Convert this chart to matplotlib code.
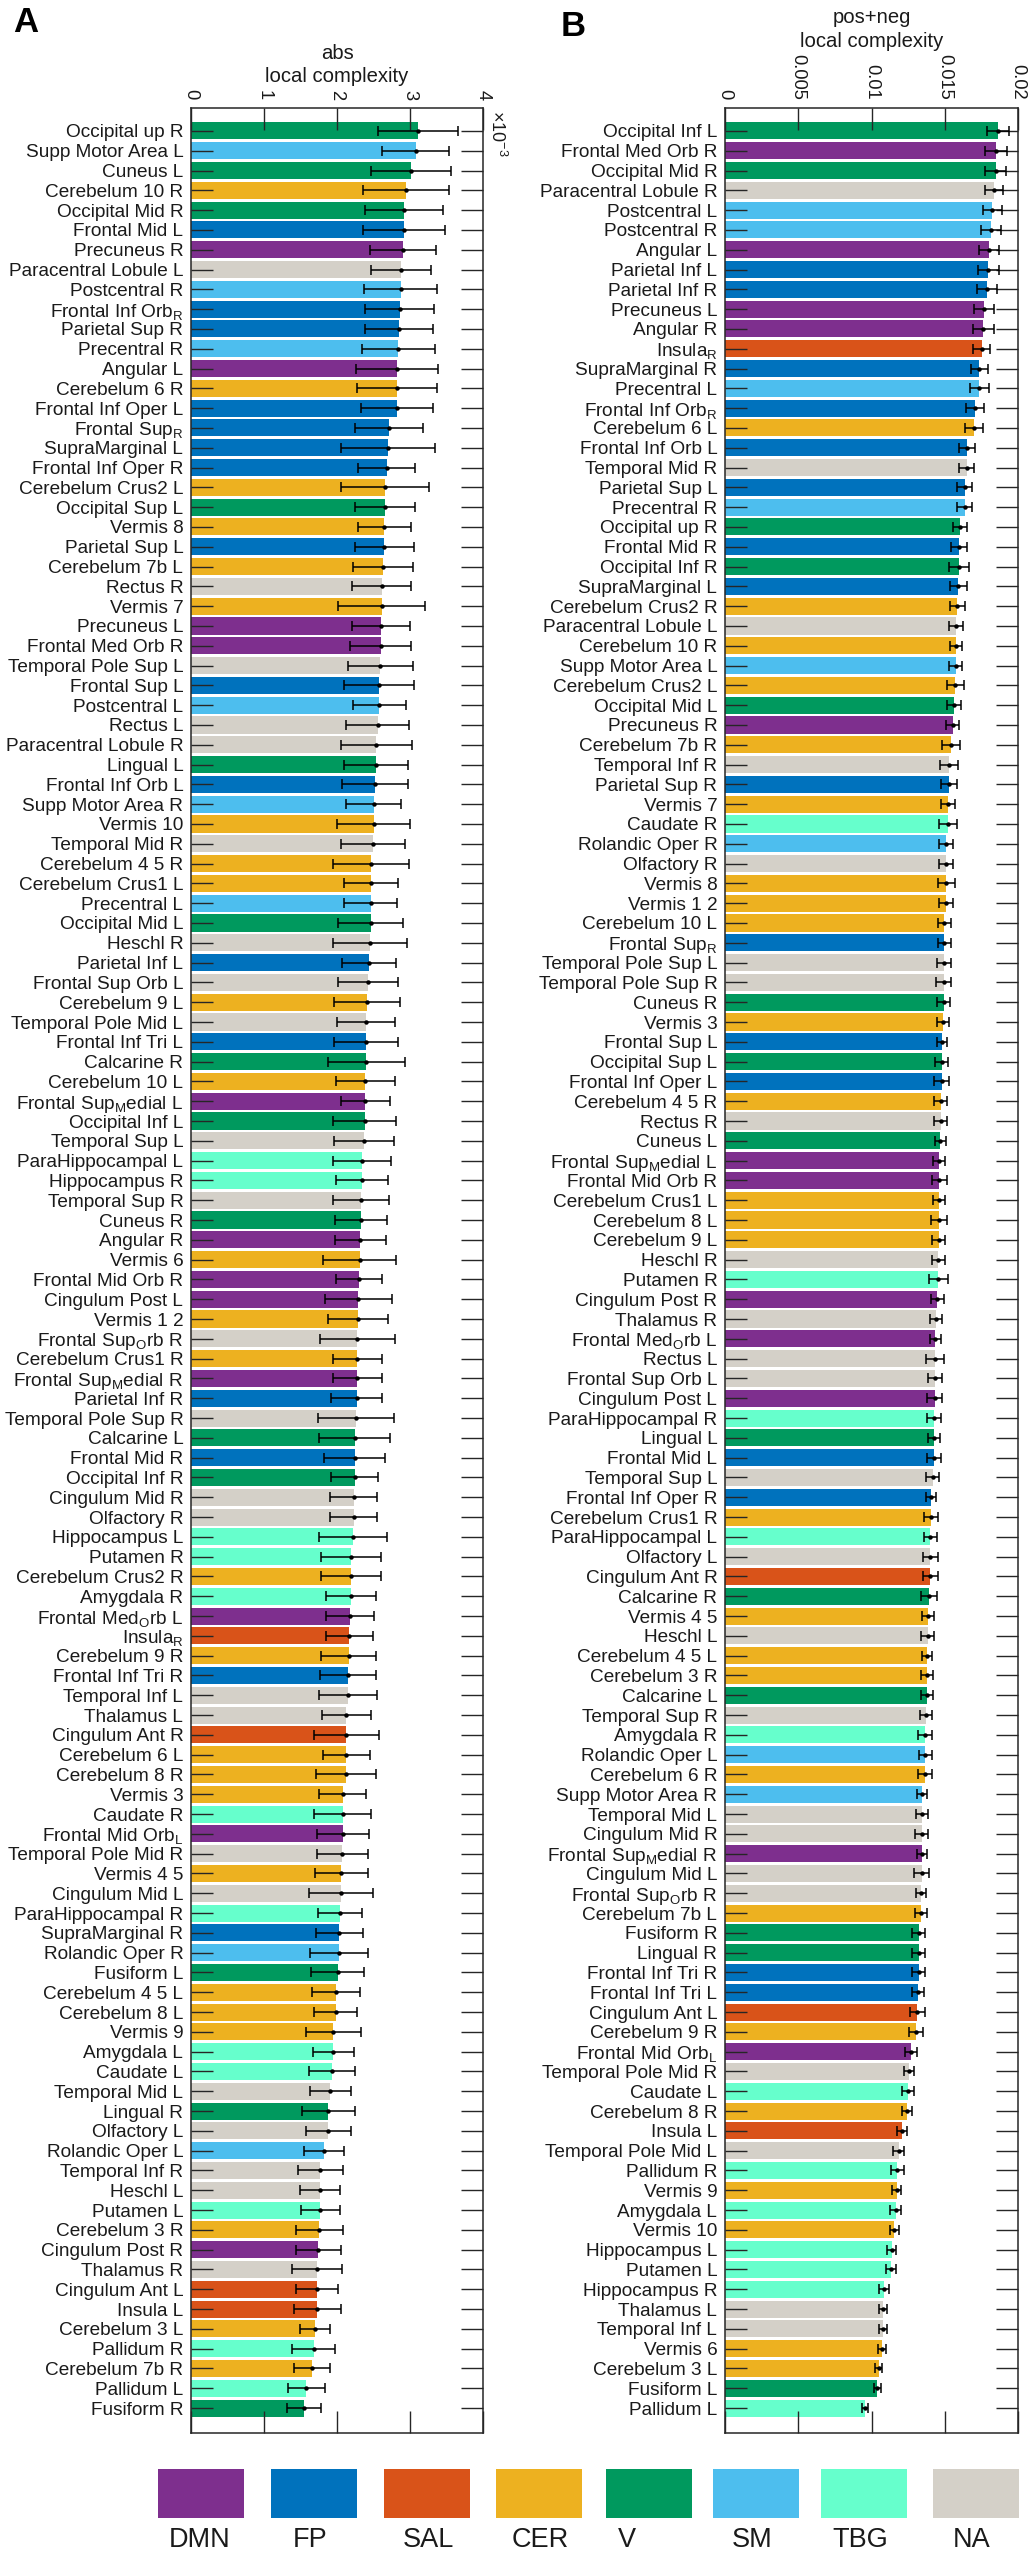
import matplotlib
matplotlib.use("Agg")
import matplotlib.pyplot as plt
from matplotlib.patches import Rectangle

plt.rcParams['font.family'] = ['Liberation Sans', 'DejaVu Sans']
plt.rcParams['mathtext.fontset'] = 'custom'
plt.rcParams['mathtext.rm'] = 'Liberation Sans'
plt.rcParams['mathtext.it'] = 'Liberation Sans'

# ---------------- data ----------------
network_names = ["DMN", "FP", "SAL", "CER", "V", "SM", "TBG", "NA"]
network_colors = ["#7E2F8E", "#0072BD", "#D95319", "#EDB120",
                  "#00995E", "#4DBEEE", "#66FFCC", "#D4D0C8"]

# Panel A: abs local complexity (x 1e-3)
a_regions = [
    "Occipital up R", "Supp Motor Area L", "Cuneus L", "Cerebelum 10 R", "Occipital Mid R",
    "Frontal Mid L", "Precuneus R", "Paracentral Lobule L", "Postcentral R", r"Frontal Inf Orb$_\mathregular{R}$",
    "Parietal Sup R", "Precentral R", "Angular L", "Cerebelum 6 R", "Frontal Inf Oper L",
    r"Frontal Sup$_\mathregular{R}$", "SupraMarginal L", "Frontal Inf Oper R", "Cerebelum Crus2 L", "Occipital Sup L",
    "Vermis 8", "Parietal Sup L", "Cerebelum 7b L", "Rectus R", "Vermis 7",
    "Precuneus L", "Frontal Med Orb R", "Temporal Pole Sup L", "Frontal Sup L", "Postcentral L",
    "Rectus L", "Paracentral Lobule R", "Lingual L", "Frontal Inf Orb L", "Supp Motor Area R",
    "Vermis 10", "Temporal Mid R", "Cerebelum 4 5 R", "Cerebelum Crus1 L", "Precentral L",
    "Occipital Mid L", "Heschl R", "Parietal Inf L", "Frontal Sup Orb L", "Cerebelum 9 L",
    "Temporal Pole Mid L", "Frontal Inf Tri L", "Calcarine R", "Cerebelum 10 L", r"Frontal Sup$_\mathregular{M}$edial L",
    "Occipital Inf L", "Temporal Sup L", "ParaHippocampal L", "Hippocampus R", "Temporal Sup R",
    "Cuneus R", "Angular R", "Vermis 6", "Frontal Mid Orb R", "Cingulum Post L",
    "Vermis 1 2", r"Frontal Sup$_\mathregular{O}$rb R", "Cerebelum Crus1 R", r"Frontal Sup$_\mathregular{M}$edial R", "Parietal Inf R",
    "Temporal Pole Sup R", "Calcarine L", "Frontal Mid R", "Occipital Inf R", "Cingulum Mid R",
    "Olfactory R", "Hippocampus L", "Putamen R", "Cerebelum Crus2 R", "Amygdala R",
    r"Frontal Med$_\mathregular{O}$rb L", r"Insula$_\mathregular{R}$", "Cerebelum 9 R", "Frontal Inf Tri R", "Temporal Inf L",
    "Thalamus L", "Cingulum Ant R", "Cerebelum 6 L", "Cerebelum 8 R", "Vermis 3",
    "Caudate R", r"Frontal Mid Orb$_\mathregular{L}$", "Temporal Pole Mid R", "Vermis 4 5", "Cingulum Mid L",
    "ParaHippocampal R", "SupraMarginal R", "Rolandic Oper R", "Fusiform L", "Cerebelum 4 5 L",
    "Cerebelum 8 L", "Vermis 9", "Amygdala L", "Caudate L", "Temporal Mid L",
    "Lingual R", "Olfactory L", "Rolandic Oper L", "Temporal Inf R", "Heschl L",
    "Putamen L", "Cerebelum 3 R", "Cingulum Post R", "Thalamus R", "Cingulum Ant L",
    "Insula L", "Cerebelum 3 L", "Pallidum R", "Cerebelum 7b R", "Pallidum L",
    "Fusiform R",
]
a_network = [
    "V", "SM", "V", "CER", "V", "FP", "DMN", "NA", "SM", "FP",
    "FP", "SM", "DMN", "CER", "FP", "FP", "FP", "FP", "CER", "V",
    "CER", "FP", "CER", "NA", "CER", "DMN", "DMN", "NA", "FP", "SM",
    "NA", "NA", "V", "FP", "SM", "CER", "NA", "CER", "CER", "SM",
    "V", "NA", "FP", "NA", "CER", "NA", "FP", "V", "CER", "DMN",
    "V", "NA", "TBG", "TBG", "NA", "V", "DMN", "CER", "DMN", "DMN",
    "CER", "NA", "CER", "DMN", "FP", "NA", "V", "FP", "V", "NA",
    "NA", "TBG", "TBG", "CER", "TBG", "DMN", "SAL", "CER", "FP", "NA",
    "NA", "SAL", "CER", "CER", "CER", "TBG", "DMN", "NA", "CER", "NA",
    "TBG", "FP", "SM", "V", "CER", "CER", "CER", "TBG", "TBG", "NA",
    "V", "NA", "SM", "NA", "NA", "TBG", "CER", "DMN", "NA", "SAL",
    "SAL", "CER", "TBG", "CER", "TBG", "V",
]
a_mean = [
    3.11, 3.08, 3.01, 2.95, 2.92, 2.92, 2.905, 2.88, 2.87, 2.86,
    2.85, 2.84, 2.82, 2.82, 2.82, 2.71, 2.70, 2.68, 2.66, 2.66,
    2.65, 2.65, 2.63, 2.61, 2.61, 2.60, 2.60, 2.595, 2.58, 2.58,
    2.56, 2.54, 2.53, 2.52, 2.50, 2.50, 2.49, 2.47, 2.47, 2.46,
    2.46, 2.45, 2.435, 2.43, 2.41, 2.40, 2.40, 2.40, 2.39, 2.39,
    2.38, 2.37, 2.34, 2.34, 2.33, 2.33, 2.32, 2.31, 2.30, 2.29,
    2.29, 2.28, 2.28, 2.28, 2.27, 2.26, 2.24, 2.24, 2.24, 2.23,
    2.23, 2.22, 2.19, 2.19, 2.19, 2.18, 2.17, 2.16, 2.15, 2.15,
    2.13, 2.13, 2.13, 2.12, 2.08, 2.08, 2.08, 2.07, 2.06, 2.05,
    2.04, 2.03, 2.03, 2.01, 1.99, 1.98, 1.95, 1.95, 1.93, 1.91,
    1.88, 1.88, 1.82, 1.77, 1.77, 1.77, 1.76, 1.745, 1.73, 1.73,
    1.73, 1.70, 1.68, 1.66, 1.58, 1.55,
]
a_err = [
    0.55, 0.46, 0.55, 0.59, 0.53, 0.56, 0.45, 0.41, 0.50, 0.47,
    0.47, 0.50, 0.56, 0.55, 0.49, 0.47, 0.64, 0.39, 0.60, 0.41,
    0.36, 0.40, 0.41, 0.40, 0.60, 0.40, 0.42, 0.44, 0.48, 0.36,
    0.43, 0.49, 0.44, 0.45, 0.38, 0.50, 0.44, 0.52, 0.37, 0.36,
    0.44, 0.51, 0.37, 0.41, 0.45, 0.40, 0.44, 0.53, 0.40, 0.33,
    0.43, 0.41, 0.40, 0.36, 0.38, 0.36, 0.35, 0.50, 0.32, 0.46,
    0.41, 0.51, 0.34, 0.33, 0.35, 0.52, 0.48, 0.42, 0.32, 0.32,
    0.32, 0.46, 0.41, 0.41, 0.34, 0.33, 0.32, 0.38, 0.38, 0.40,
    0.335, 0.45, 0.32, 0.41, 0.32, 0.39, 0.36, 0.35, 0.365, 0.44,
    0.30, 0.32, 0.40, 0.365, 0.33, 0.29, 0.38, 0.285, 0.31, 0.28,
    0.365, 0.31, 0.27, 0.31, 0.275, 0.265, 0.32, 0.31, 0.34, 0.29,
    0.32, 0.21, 0.29, 0.25, 0.25, 0.23,
]

# Panel B: pos+neg local complexity (x 1e-3)
b_regions = [
    "Occipital Inf L", "Frontal Med Orb R", "Occipital Mid R", "Paracentral Lobule R", "Postcentral L",
    "Postcentral R", "Angular L", "Parietal Inf L", "Parietal Inf R", "Precuneus L",
    "Angular R", r"Insula$_\mathregular{R}$", "SupraMarginal R", "Precentral L", r"Frontal Inf Orb$_\mathregular{R}$",
    "Cerebelum 6 L", "Frontal Inf Orb L", "Temporal Mid R", "Parietal Sup L", "Precentral R",
    "Occipital up R", "Frontal Mid R", "Occipital Inf R", "SupraMarginal L", "Cerebelum Crus2 R",
    "Paracentral Lobule L", "Cerebelum 10 R", "Supp Motor Area L", "Cerebelum Crus2 L", "Occipital Mid L",
    "Precuneus R", "Cerebelum 7b R", "Temporal Inf R", "Parietal Sup R", "Vermis 7",
    "Caudate R", "Rolandic Oper R", "Olfactory R", "Vermis 8", "Vermis 1 2",
    "Cerebelum 10 L", r"Frontal Sup$_\mathregular{R}$", "Temporal Pole Sup L", "Temporal Pole Sup R", "Cuneus R",
    "Vermis 3", "Frontal Sup L", "Occipital Sup L", "Frontal Inf Oper L", "Cerebelum 4 5 R",
    "Rectus R", "Cuneus L", r"Frontal Sup$_\mathregular{M}$edial L", "Frontal Mid Orb R", "Cerebelum Crus1 L",
    "Cerebelum 8 L", "Cerebelum 9 L", "Heschl R", "Putamen R", "Cingulum Post R",
    "Thalamus R", r"Frontal Med$_\mathregular{O}$rb L", "Rectus L", "Frontal Sup Orb L", "Cingulum Post L",
    "ParaHippocampal R", "Lingual L", "Frontal Mid L", "Temporal Sup L", "Frontal Inf Oper R",
    "Cerebelum Crus1 R", "ParaHippocampal L", "Olfactory L", "Cingulum Ant R", "Calcarine R",
    "Vermis 4 5", "Heschl L", "Cerebelum 4 5 L", "Cerebelum 3 R", "Calcarine L",
    "Temporal Sup R", "Amygdala R", "Rolandic Oper L", "Cerebelum 6 R", "Supp Motor Area R",
    "Temporal Mid L", "Cingulum Mid R", r"Frontal Sup$_\mathregular{M}$edial R", "Cingulum Mid L", r"Frontal Sup$_\mathregular{O}$rb R",
    "Cerebelum 7b L", "Fusiform R", "Lingual R", "Frontal Inf Tri R", "Frontal Inf Tri L",
    "Cingulum Ant L", "Cerebelum 9 R", r"Frontal Mid Orb$_\mathregular{L}$", "Temporal Pole Mid R", "Caudate L",
    "Cerebelum 8 R", "Insula L", "Temporal Pole Mid L", "Pallidum R", "Vermis 9",
    "Amygdala L", "Vermis 10", "Hippocampus L", "Putamen L", "Hippocampus R",
    "Thalamus L", "Temporal Inf L", "Vermis 6", "Cerebelum 3 L", "Fusiform L",
    "Pallidum L",
]
b_network = [
    "V", "DMN", "V", "NA", "SM", "SM", "DMN", "FP", "FP", "DMN",
    "DMN", "SAL", "FP", "SM", "FP", "CER", "FP", "NA", "FP", "SM",
    "V", "FP", "V", "FP", "CER", "NA", "CER", "SM", "CER", "V",
    "DMN", "CER", "NA", "FP", "CER", "TBG", "SM", "NA", "CER", "CER",
    "CER", "FP", "NA", "NA", "V", "CER", "FP", "V", "FP", "CER",
    "NA", "V", "DMN", "DMN", "CER", "CER", "CER", "NA", "TBG", "DMN",
    "NA", "DMN", "NA", "NA", "DMN", "TBG", "V", "FP", "NA", "FP",
    "CER", "TBG", "NA", "SAL", "V", "CER", "NA", "CER", "CER", "V",
    "NA", "TBG", "SM", "CER", "SM", "NA", "NA", "DMN", "NA", "NA",
    "CER", "V", "V", "FP", "FP", "SAL", "CER", "DMN", "NA", "TBG",
    "CER", "SAL", "NA", "TBG", "CER", "TBG", "CER", "TBG", "TBG", "TBG",
    "NA", "NA", "CER", "CER", "V", "TBG",
]
b_mean = [
    18.64, 18.49, 18.47, 18.37, 18.24, 18.15, 18.03, 17.97, 17.90, 17.69,
    17.63, 17.51, 17.37, 17.35, 17.06, 16.97, 16.50, 16.49, 16.38, 16.37,
    16.05, 16.00, 15.99, 15.93, 15.84, 15.77, 15.75, 15.74, 15.73, 15.62,
    15.53, 15.43, 15.30, 15.29, 15.21, 15.20, 15.10, 15.10, 15.09, 15.08,
    14.98, 14.97, 14.94, 14.93, 14.92, 14.89, 14.80, 14.80, 14.79, 14.71,
    14.71, 14.70, 14.62, 14.62, 14.61, 14.61, 14.58, 14.57, 14.56, 14.49,
    14.42, 14.35, 14.33, 14.33, 14.32, 14.26, 14.26, 14.25, 14.17, 14.08,
    14.07, 14.01, 14.01, 14.00, 13.90, 13.85, 13.84, 13.79, 13.79, 13.78,
    13.72, 13.67, 13.67, 13.66, 13.45, 13.45, 13.44, 13.44, 13.43, 13.38,
    13.37, 13.22, 13.22, 13.21, 13.15, 13.11, 13.04, 12.72, 12.56, 12.50,
    12.43, 12.05, 11.86, 11.77, 11.72, 11.64, 11.56, 11.38, 11.33, 10.84,
    10.80, 10.79, 10.72, 10.50, 10.40, 9.55,
]
b_err = [
    0.73, 0.76, 0.74, 0.59, 0.64, 0.67, 0.69, 0.73, 0.69, 0.67,
    0.70, 0.60, 0.59, 0.64, 0.62, 0.62, 0.56, 0.53, 0.51, 0.51,
    0.47, 0.55, 0.68, 0.56, 0.51, 0.45, 0.40, 0.43, 0.55, 0.50,
    0.45, 0.64, 0.61, 0.58, 0.50, 0.62, 0.49, 0.49, 0.58, 0.45,
    0.46, 0.46, 0.50, 0.53, 0.45, 0.42, 0.36, 0.45, 0.50, 0.42,
    0.45, 0.37, 0.41, 0.50, 0.42, 0.54, 0.43, 0.46, 0.63, 0.45,
    0.42, 0.37, 0.59, 0.47, 0.52, 0.47, 0.43, 0.46, 0.42, 0.34,
    0.46, 0.46, 0.51, 0.51, 0.54, 0.41, 0.46, 0.34, 0.42, 0.40,
    0.40, 0.47, 0.44, 0.47, 0.35, 0.44, 0.44, 0.35, 0.51, 0.35,
    0.43, 0.43, 0.43, 0.43, 0.40, 0.51, 0.47, 0.40, 0.35, 0.43,
    0.35, 0.34, 0.36, 0.43, 0.32, 0.35, 0.33, 0.31, 0.36, 0.33,
    0.27, 0.27, 0.28, 0.25, 0.25, 0.22,
]

a_ticks = [0, 1, 2, 3, 4]
a_ticklabels = ["0", "1", "2", "3", "4"]
b_ticks = [0, 0.005, 0.01, 0.015, 0.02]
b_ticklabels = ["0", "0.005", "0.01", "0.015", "0.02"]

# ---------------- figure ----------------
W, H = 1030, 2560
fig = plt.figure(figsize=(W / 100, H / 100), dpi=100)
cmap = dict(zip(network_names, network_colors))

ax_top, ax_bot = 108, 2433
axA = fig.add_axes([191 / W, 1 - ax_bot / H, 292 / W, (ax_bot - ax_top) / H])
axB = fig.add_axes([725 / W, 1 - ax_bot / H, 293 / W, (ax_bot - ax_top) / H])

spine_c = "#262626"


def draw_panel(ax, names, nets, means, errs, scale, xmax, ticks, ticklabels, title):
    n = len(names)
    ypos = list(range(n))
    vals = [m * scale for m in means]
    es = [e * scale for e in errs]
    ax.barh(ypos, vals, height=0.86, color=[cmap[k] for k in nets], edgecolor="none", zorder=1)
    ax.errorbar(vals, ypos, xerr=es, fmt='o', ms=2.2, color='k', ecolor='k',
                elinewidth=1.1, capsize=3.6, capthick=1.1, zorder=3)
    ax.set_xlim(0, xmax)
    ax.set_ylim(n + 0.26, -1.16)
    ax.set_yticks(ypos)
    ax.set_yticklabels(names, fontsize=13.7)
    ax.set_xticks(ticks)
    ax.set_xticklabels(ticklabels, rotation=270, fontsize=13.2)
    ax.xaxis.set_ticks_position('both')
    ax.xaxis.set_label_position('top')
    ax.tick_params(axis='x', which='both', direction='in', length=16, width=1.0,
                   top=True, bottom=True, labeltop=True, labelbottom=False, pad=6, colors=spine_c)
    ax.tick_params(axis='x', labelcolor='#1a1a1a')
    ax.tick_params(axis='y', which='both', direction='in', length=15.5, width=1.0,
                   left=True, right=True, labelleft=True, labelright=False, pad=5.5, colors=spine_c)
    ax.tick_params(axis='y', labelcolor='#1a1a1a')
    for s in ax.spines.values():
        s.set_color(spine_c)
        s.set_linewidth(1.1)
    ax.set_xlabel(title, fontsize=14.6, labelpad=5, linespacing=1.3, color='#1a1a1a')


draw_panel(axA, a_regions, a_network, a_mean, a_err, 1.0, 4, a_ticks, a_ticklabels,
           "abs\nlocal complexity")
draw_panel(axB, b_regions, b_network, b_mean, b_err, 1e-3, 0.02, b_ticks, b_ticklabels,
           "pos+neg\nlocal complexity")

axA.text(1.012, 0.999, "\u00d710$^{\\mathregular{-3}}$", transform=axA.transAxes, rotation=270,
         ha='left', va='top', fontsize=13, color='#1a1a1a')

fig.text(13 / W, 1 - 6 / H, "A", fontsize=25, fontweight='bold', ha='left', va='top')
fig.text(561 / W, 1 - 10 / H, "B", fontsize=25, fontweight='bold', ha='left', va='top')

# legend
leg = fig.add_axes([0, 0, 1, 1], facecolor='none')
leg.set_xlim(0, W)
leg.set_ylim(H, 0)
leg.axis('off')
sq_x0 = [158, 271, 384, 496, 606, 713, 821, 933]
lab_x = [200, 310, 428, 540, 627, 752, 860, 972]
for i, (name, col) in enumerate(zip(network_names, network_colors)):
    leg.add_patch(Rectangle((sq_x0[i], 2469), 86, 49, facecolor=col, edgecolor='none'))
    leg.text(lab_x[i], 2540, name, ha='center', va='center', fontsize=19.5, color='#1a1a1a')

fig.savefig("out.png", dpi=100)
